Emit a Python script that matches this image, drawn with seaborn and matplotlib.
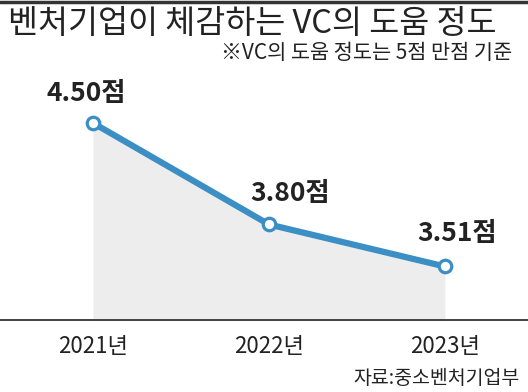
import matplotlib
matplotlib.use('Agg')
import matplotlib.pyplot as plt
import seaborn as sns
import pandas as pd
from matplotlib.lines import Line2D

# --- data ---
years = ['2021년', '2022년', '2023년']
scores = [4.50, 3.80, 3.51]
labels = ['4.50점', '3.80점', '3.51점']

df = pd.DataFrame({'year': years, 'score': scores})

sns.set_style('white')
plt.rcParams['font.family'] = ['Noto Sans CJK KR', 'DejaVu Sans']

blue = '#3b8fc5'
ink = '#222222'

fig = plt.figure(figsize=(5.28, 3.92), dpi=100)
ax = fig.add_axes([0, 1 - 320 / 392, 1, 260 / 392])

ymin, ymax = 3.141, 4.934
ax.set_ylim(ymin, ymax)
ax.set_xlim(-0.528, 2.472)

# grey area under the line
ax.fill_between(range(len(scores)), scores, ymin, color='#ededed', lw=0, zorder=1)

sns.lineplot(data=df, x='year', y='score', ax=ax, color=blue, lw=4.5,
             marker='o', markersize=9, markerfacecolor='white',
             markeredgecolor=blue, markeredgewidth=2.3, zorder=3)

offsets = [(-5, 21), (15, 22), (9, 24)]
for i, (v, lab) in enumerate(zip(scores, labels)):
    ax.annotate(lab, (i, v), xytext=offsets[i], textcoords='offset points',
                ha='center', va='center', fontsize=19, fontweight='bold', color=ink)

# axis styling
for s in ['top', 'left', 'right']:
    ax.spines[s].set_visible(False)
ax.spines['bottom'].set_color('#333333')
ax.spines['bottom'].set_linewidth(1.3)
ax.set_yticks([])
ax.set_xlabel('')
ax.set_ylabel('')
ax.tick_params(axis='x', direction='in', length=9, width=1, color='#333333',
               pad=11, labelsize=16, labelcolor=ink)

# titles and notes
fig.add_artist(Line2D([0, 1], [1 - 1.5 / 392, 1 - 1.5 / 392], color='#333333', lw=2.5))
fig.text(8 / 528, 1 - 24 / 392, '벤처기업이 체감하는 VC의 도움 정도', fontsize=23.5,
         color=ink, va='center', ha='left')
fig.text(512 / 528, 1 - 53 / 392, '※VC의 도움 정도는 5점 만점 기준', fontsize=15,
         color=ink, va='center', ha='right')
fig.text(520 / 528, 1 - 378 / 392, '자료:중소벤처기업부', fontsize=14,
         color=ink, va='center', ha='right')

fig.savefig('out.png', dpi=100)
